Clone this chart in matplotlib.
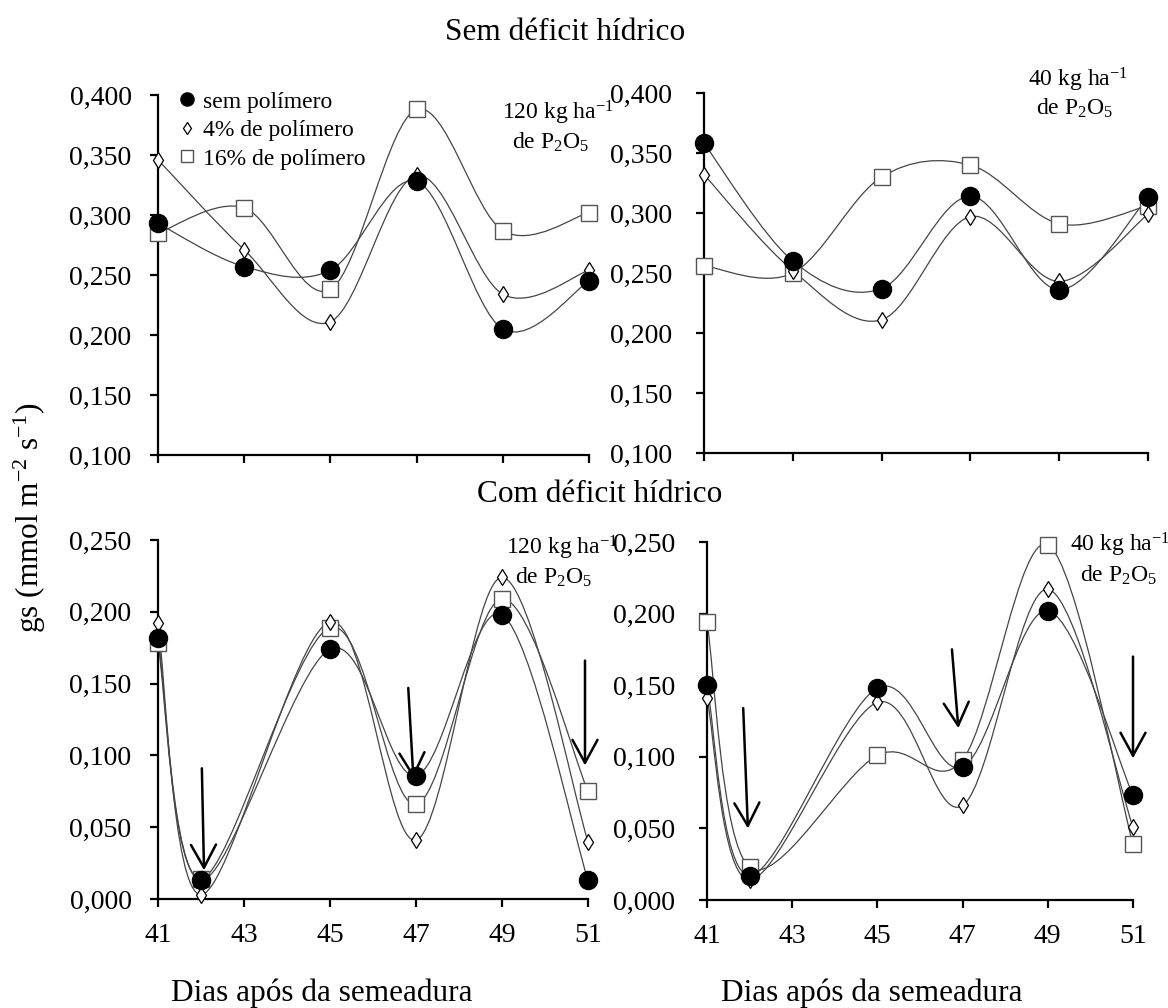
import matplotlib
matplotlib.use('Agg')
import matplotlib.pyplot as plt
import numpy as np
from matplotlib.lines import Line2D
from matplotlib.patches import PathPatch
from matplotlib.path import Path
from matplotlib.ticker import FixedLocator, FuncFormatter

plt.rcParams['font.family'] = ['Liberation Serif', 'DejaVu Serif']
plt.rcParams['mathtext.fontset'] = 'custom'
plt.rcParams['mathtext.rm'] = 'Liberation Serif'
plt.rcParams['mathtext.it'] = 'Liberation Serif:italic'

# --- data: gs (mmol m-2 s-1) by days after sowing ---------------------------
DIAS_SEM_DEFICIT = [41, 43, 45, 47, 49, 51]
DIAS_COM_DEFICIT = [41, 42, 45, 47, 49, 51]

# sem déficit hídrico, 120 kg ha-1 de P2O5
sd120_sem_pol = [0.293, 0.257, 0.254, 0.328, 0.205, 0.245]
sd120_pol4 = [0.346, 0.271, 0.211, 0.333, 0.234, 0.254]
sd120_pol16 = [0.285, 0.306, 0.238, 0.388, 0.287, 0.302]

# sem déficit hídrico, 40 kg ha-1 de P2O5
sd40_sem_pol = [0.358, 0.260, 0.237, 0.314, 0.236, 0.313]
sd40_pol4 = [0.332, 0.252, 0.211, 0.297, 0.243, 0.299]
sd40_pol16 = [0.256, 0.250, 0.330, 0.340, 0.291, 0.306]

# com déficit hídrico, 120 kg ha-1 de P2O5
cd120_sem_pol = [0.182, 0.013, 0.174, 0.086, 0.198, 0.013]
cd120_pol4 = [0.192, 0.003, 0.193, 0.041, 0.224, 0.040]
cd120_pol16 = [0.178, 0.014, 0.189, 0.066, 0.209, 0.075]

# com déficit hídrico, 40 kg ha-1 de P2O5
cd40_sem_pol = [0.150, 0.017, 0.148, 0.093, 0.202, 0.073]
cd40_pol4 = [0.141, 0.014, 0.138, 0.066, 0.217, 0.051]
cd40_pol16 = [0.194, 0.023, 0.101, 0.098, 0.248, 0.039]

# irrigation-stress arrows: (x_tail, y_tail, x_head, y_head)
setas_120 = [(42.02, 0.091, 42.07, 0.020),
             (46.82, 0.147, 46.94, 0.084),
             (50.93, 0.166, 50.93, 0.093)]
setas_40 = [(41.85, 0.134, 41.96, 0.050),
            (46.75, 0.175, 46.90, 0.120),
            (51.00, 0.170, 51.00, 0.099)]

LEGENDA = ['sem polímero', '4% de polímero', '16% de polímero']

W, H = 1168, 1008
fig = plt.figure(figsize=(W / 100, H / 100), dpi=100)


def rect(left, right, top, bottom):
    """Pixel box -> figure-fraction axes rect."""
    return [left / W, 1 - bottom / H, (right - left) / W, (bottom - top) / H]


def fx(px):
    return px / W


def fy(py):
    return 1 - py / H


def smooth_path(x, y):
    """Cubic Bezier through every point (smoothed-line style)."""
    pts = np.column_stack([x, y]).astype(float)
    n = len(pts)
    verts, codes = [pts[0]], [Path.MOVETO]
    for i in range(n - 1):
        p0 = pts[max(i - 1, 0)]
        p1, p2 = pts[i], pts[i + 1]
        p3 = pts[min(i + 2, n - 1)]
        verts += [p1 + (p2 - p0) / 6, p2 - (p3 - p1) / 6, p2]
        codes += [Path.CURVE4] * 3
    return Path(verts, codes)


def comma_fmt(v, _pos):
    return f'{v:.3f}'.replace('.', ',')


def draw_panel(ax, dias, sem, p4, p16, ylim, yticks, show_x, ypad):
    for serie in (p16, p4, sem):
        ax.add_patch(PathPatch(smooth_path(dias, serie), fill=False,
                               edgecolor='#454545', lw=0.9, zorder=2))
    ax.plot(dias, p16, ls='none', marker='s', ms=11, mfc='white',
            mec='#555555', mew=1.0, clip_on=False, zorder=3)
    ax.plot(dias, p4, ls='none', marker='d', ms=8.5, mfc='white',
            mec='black', mew=0.9, clip_on=False, zorder=4)
    ax.plot(dias, sem, ls='none', marker='o', ms=13, mfc='black',
            mec='black', clip_on=False, zorder=5)

    ax.set_xlim(41, 51)
    ax.set_ylim(*ylim)
    ax.xaxis.set_major_locator(FixedLocator([41, 43, 45, 47, 49, 51]))
    ax.yaxis.set_major_locator(FixedLocator(yticks))
    ax.yaxis.set_major_formatter(FuncFormatter(comma_fmt))
    for side in ('top', 'right'):
        ax.spines[side].set_visible(False)
    for side in ('left', 'bottom'):
        ax.spines[side].set_linewidth(1.6)
    ax.tick_params(direction='out', length=6, width=1.6, labelsize=20)
    ax.tick_params(axis='y', pad=ypad)
    ax.tick_params(axis='x', pad=11, labelbottom=show_x)


def draw_arrows(ax, setas):
    for xt, yt, xh, yh in setas:
        ax.annotate('', xy=(xh, yh), xytext=(xt, yt),
                    arrowprops=dict(arrowstyle='->,head_length=0.55,head_width=0.3',
                                    lw=1.8, color='black', mutation_scale=30,
                                    shrinkA=0, shrinkB=0),
                    zorder=6)


sd_ticks = [0.100, 0.150, 0.200, 0.250, 0.300, 0.350, 0.400]
cd_ticks = [0.000, 0.050, 0.100, 0.150, 0.200, 0.250]

ax_tl = fig.add_axes(rect(158, 589, 95, 455))
ax_tr = fig.add_axes(rect(704, 1148, 93, 453))
ax_bl = fig.add_axes(rect(158, 588, 540, 899))
ax_br = fig.add_axes(rect(707, 1133, 542, 900))

draw_panel(ax_tl, DIAS_SEM_DEFICIT, sd120_sem_pol, sd120_pol4, sd120_pol16,
           (0.1, 0.4), sd_ticks, False, 13)
draw_panel(ax_tr, DIAS_SEM_DEFICIT, sd40_sem_pol, sd40_pol4, sd40_pol16,
           (0.1, 0.4), sd_ticks, False, 17)
draw_panel(ax_bl, DIAS_COM_DEFICIT, cd120_sem_pol, cd120_pol4, cd120_pol16,
           (0.0, 0.25), cd_ticks, True, 13)
draw_panel(ax_br, DIAS_COM_DEFICIT, cd40_sem_pol, cd40_pol4, cd40_pol16,
           (0.0, 0.25), cd_ticks, True, 17)

draw_arrows(ax_bl, setas_120)
draw_arrows(ax_br, setas_40)

# legend (top-left panel only)
handles = [
    Line2D([], [], ls='none', marker='o', ms=9.5, mfc='black', mec='black'),
    Line2D([], [], ls='none', marker='d', ms=6.5, mfc='white', mec='black', mew=0.9),
    Line2D([], [], ls='none', marker='s', ms=8, mfc='white', mec='#555555', mew=1.0),
]
fig.legend(handles, LEGENDA, loc='upper left',
           bbox_to_anchor=(fx(178), fy(91)), bbox_transform=fig.transFigure,
           frameon=False, fontsize=17, handlelength=0.8, handletextpad=0.25,
           labelspacing=0.3, borderpad=0, borderaxespad=0)

# dose labels
dose_txt = dict(fontsize=17, ha='center', va='center')
for (x1, y1, x2, y2, dose) in [(558, 113, 551, 142, '120'),
                                (1078, 80, 1075, 108, '40'),
                                (562, 548, 554, 577, '120'),
                                (1120, 545, 1119, 575, '40')]:
    fig.text(fx(x1), fy(y1), dose + r' kg ha$^{\mathregular{-1}}$', **dose_txt)
    fig.text(fx(x2), fy(y2), r'de P$_{\mathregular{2}}$O$_{\mathregular{5}}$', **dose_txt)

# titles and axis labels
fig.text(fx(565), fy(33), 'Sem déficit hídrico', fontsize=22.5,
         ha='center', va='center')
fig.text(fx(600), fy(495), 'Com déficit hídrico', fontsize=22.5,
         ha='center', va='center')
fig.text(fx(30), fy(518), r'gs (mmol m$^{\mathregular{-2}}$ s$^{\mathregular{-1}}$)',
         fontsize=22.5, rotation=90, ha='center', va='center')
fig.text(fx(322), fy(993), 'Dias após da semeadura', fontsize=22.5,
         ha='center', va='center')
fig.text(fx(872), fy(993), 'Dias após da semeadura', fontsize=22.5,
         ha='center', va='center')

fig.savefig('out.png', dpi=100)
